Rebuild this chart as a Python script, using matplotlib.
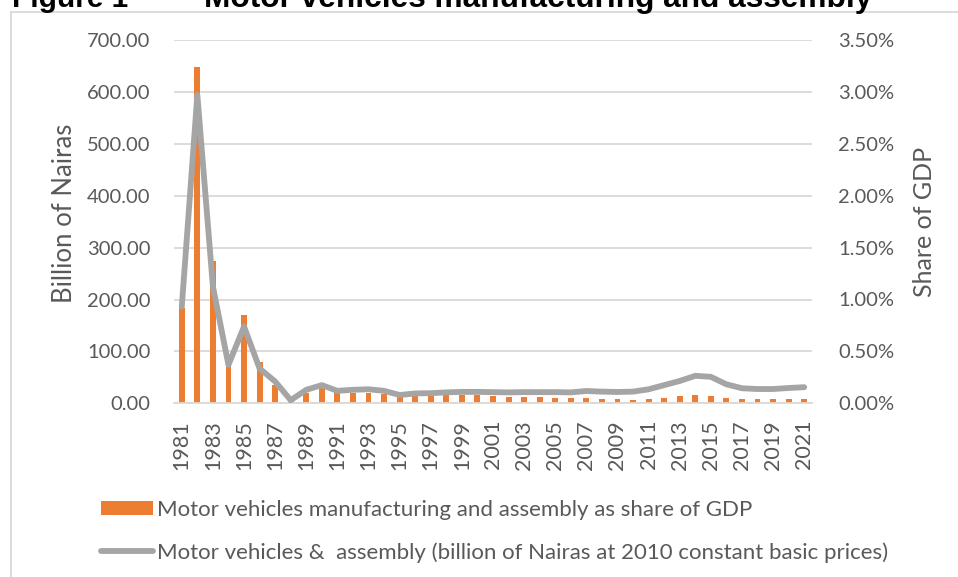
import matplotlib
matplotlib.use("Agg")
import matplotlib.pyplot as plt
from matplotlib.patches import Patch
from matplotlib.lines import Line2D
import numpy as np

years = list(range(1981, 2022))
share_gdp = [0.915, 3.24, 1.37, 0.37, 0.85, 0.395, 0.18, 0.02, 0.10, 0.16,
             0.11, 0.10, 0.10, 0.09, 0.058, 0.07, 0.07, 0.077, 0.083, 0.083,
             0.075, 0.064, 0.064, 0.058, 0.055, 0.05, 0.048, 0.045, 0.042, 0.035,
             0.042, 0.055, 0.067, 0.08, 0.07, 0.051, 0.042, 0.038, 0.038, 0.042,
             0.042]
billions = [186, 594, 225, 74, 148, 67, 42, 6, 26, 35,
            24, 26, 27, 24, 16, 19, 19.5, 21, 22, 22,
            21.5, 21, 21.5, 21.5, 21.5, 21, 23.7, 22.5, 21.8, 22.5,
            27, 35, 43, 53, 51, 36.6, 29, 27.5, 27.5, 29.5,
            31]
left_ticks = [0, 100, 200, 300, 400, 500, 600, 700]
right_ticks = [0.0, 0.5, 1.0, 1.5, 2.0, 2.5, 3.0, 3.5]
bar_label = "Motor vehicles manufacturing and assembly as share of GDP"
line_label = "Motor vehicles &  assembly (billion of Nairas at 2010 constant basic prices)"

W, H = 958, 577
fig = plt.figure(figsize=(W / 100, H / 100), dpi=100)
FONT = "Lato"
TXT = "#595959"
GRID = "#D9D9D9"
ORANGE = "#ED7D31"
GRAY = "#A5A5A5"
LW = 4.2

L, R = 174 / W, 812 / W
B, T = 1 - 403.3 / H, 1 - 40 / H
ax2 = fig.add_axes([L, B, R - L, T - B])   # bars, share (right axis)
ax = ax2.twinx()                            # line, billions (left axis)

x = np.arange(len(years))
ax2.bar(x, share_gdp, width=0.38, color=ORANGE, zorder=2)
ax2.set_ylim(0, 3.5)
ax2.set_yticks(right_ticks)
ax2.set_yticklabels([f"{v:.2f}%" for v in right_ticks])
ax2.yaxis.tick_right()
ax2.grid(axis="y", color=GRID, linewidth=1.3)
ax2.set_axisbelow(True)

ax.plot(x, billions, color=GRAY, linewidth=LW, solid_capstyle="round", solid_joinstyle="round")
ax.set_ylim(0, 700)
ax.set_yticks(left_ticks)
ax.set_yticklabels([f"{v:.2f}" for v in left_ticks])
ax.yaxis.tick_left()

ax2.set_xlim(-0.5, len(years) - 0.5)
ax2.set_xticks(x[::2])
ax2.set_xticklabels([str(y) for y in years[::2]], rotation=90)

for a in (ax, ax2):
    for s in a.spines.values():
        s.set_visible(False)
    a.tick_params(length=0, labelcolor=TXT, labelsize=14.5)
    for lab in a.get_xticklabels() + a.get_yticklabels():
        lab.set_fontfamily(FONT)
ax2.tick_params(axis="x", labelsize=15.5, pad=12)
ax2.spines["bottom"].set_visible(True)
ax2.spines["bottom"].set_color(GRID)
ax2.spines["bottom"].set_linewidth(1.3)
ax.tick_params(axis="y", pad=17)
ax2.tick_params(axis="y", pad=19)

fig.text(65 / W, 1 - 213 / H, "Billion of Nairas", rotation=90, ha="center", va="center",
         color=TXT, fontsize=18.5, fontfamily=FONT)
fig.text(925 / W, 1 - 222 / H, "Share of GDP", rotation=90, ha="center", va="center",
         color=TXT, fontsize=18, fontfamily=FONT)

# Title (partially cut off at top, as in the reference)
fig.text(12 / W, 1 - 7 / H, "Figure 1", ha="left", va="baseline", fontsize=21.5,
         fontweight="bold", fontfamily="Liberation Sans", color="black")
fig.text(204 / W, 1 - 7 / H, "Motor vehicles manufacturing and assembly", ha="left",
         va="baseline", fontsize=22.8, fontweight="bold", fontfamily="Liberation Sans", color="black")

# Chart border
fig.add_artist(Line2D([11 / W, 11 / W], [0, 1 - 12 / H], color=GRID, linewidth=1.3, transform=fig.transFigure))
fig.add_artist(Line2D([11 / W, 1], [1 - 12 / H, 1 - 12 / H], color=GRID, linewidth=1.3, transform=fig.transFigure))

LFS = 16
handles = [Patch(facecolor=ORANGE, edgecolor="none", label=bar_label),
           Line2D([0], [0], color=GRAY, linewidth=LW, solid_capstyle="round", label=line_label)]
leg = fig.legend(handles=handles, loc="upper left", bbox_to_anchor=(101 / W, 1 - 500 / H),
                 frameon=False, handlelength=52 / (LFS * 1.389), handleheight=0.6,
                 handletextpad=0.2, labelspacing=1.0, borderpad=0, borderaxespad=0,
                 prop={"family": FONT, "size": LFS})
for t in leg.get_texts():
    t.set_color(TXT)

fig.savefig("out.png", dpi=100)
